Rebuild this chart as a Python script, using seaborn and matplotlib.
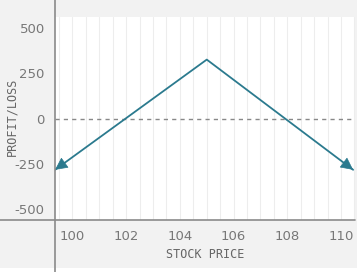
import matplotlib
matplotlib.use("Agg")
import matplotlib.pyplot as plt
from matplotlib.lines import Line2D
from matplotlib.ticker import MultipleLocator, FuncFormatter
import seaborn as sns
import pandas as pd

# data
stock_price = [99.35, 105.0, 110.45]
profit_loss = [-283, 325, -283]
x_ticks = [100, 102, 104, 106, 108, 110]
y_ticks = [-500, -250, 0, 250, 500]

sns.set_theme(style="white")
plt.rcParams['font.family'] = ['Liberation Sans Narrow', 'DejaVu Sans']

W, H = 357, 272
fig = plt.figure(figsize=(W / 100, H / 100), dpi=100, facecolor="#f2f2f2")
left, right, top, bottom = 54.5, 355, 17, 220
ax = fig.add_axes([left / W, (H - bottom) / H, (right - left) / W, (bottom - top) / H])
ax.set_facecolor("white")

line_color = "#2b7a8e"
df = pd.DataFrame({"price": stock_price, "pl": profit_loss})
sns.lineplot(data=df, x="price", y="pl", ax=ax, color=line_color, linewidth=1.3,
             sort=False, zorder=4)

# arrowheads at both ends
for i_end, i_from in [(0, 1), (2, 1)]:
    xe, ye = stock_price[i_end], profit_loss[i_end]
    xf, yf = stock_price[i_from], profit_loss[i_from]
    t = 0.05
    ax.annotate("", xy=(xe, ye), xytext=(xe + (xf - xe) * t, ye + (yf - ye) * t),
                arrowprops=dict(arrowstyle="-|>,head_length=0.8,head_width=0.4",
                                color=line_color, lw=0.5,
                                mutation_scale=10, shrinkA=0, shrinkB=0),
                zorder=5, annotation_clip=False)

ax.axhline(0, color="#888888", lw=1.0, ls=(0, (3, 3)), zorder=3)

ax.set_xlim(99.33, 110.52)
ax.set_ylim(-560, 560)
ax.set_xticks(x_ticks)
ax.set_yticks(y_ticks)
ax.yaxis.set_major_formatter(FuncFormatter(lambda v, p: f"{int(v)}"))
ax.xaxis.set_minor_locator(MultipleLocator(0.5))
ax.grid(True, axis="x", which="both", color="#ededed", lw=0.8, zorder=0)
ax.grid(False, axis="y")
ax.set_axisbelow(True)
for s in ax.spines.values():
    s.set_visible(False)
ax.tick_params(axis="both", which="both", length=0, labelsize=9.5, colors="#777777")
ax.tick_params(axis="x", pad=7)
ax.tick_params(axis="y", pad=7)

ax.set_xlabel("STOCK PRICE", fontsize=8.5, color="#666666",
              family=["DejaVu Sans Mono"])
ax.set_ylabel("PROFIT/LOSS", fontsize=8.5, color="#666666",
              family=["DejaVu Sans Mono"])
ax.xaxis.set_label_coords((205 - left) / (right - left), -(254 - bottom) / (bottom - top))
ax.yaxis.set_label_coords(-(left - 12) / (right - left), (bottom - 117) / (bottom - top))
ax.xaxis.label.set_va("center")
ax.yaxis.label.set_va("center")

# white strip at bottom
fig.patches.append(plt.Rectangle((0, 0), 1, 4 / H, transform=fig.transFigure,
                                 facecolor="white", edgecolor="none", zorder=0))
# extended axis lines
fig.add_artist(Line2D([left / W, left / W], [0, 1], color="#8a8a8a", lw=1.2))
fig.add_artist(Line2D([0, right / W], [(H - bottom) / H] * 2, color="#8a8a8a", lw=1.2))

fig.savefig("out.png", dpi=100, facecolor=fig.get_facecolor())
